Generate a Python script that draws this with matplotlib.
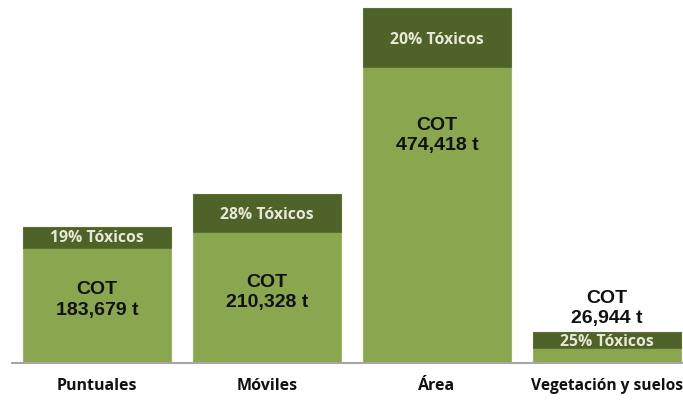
import matplotlib.pyplot as plt
import numpy as np

# categorías y valores (miles de t, alturas)
categorias = ['Puntuales', 'Móviles', 'Área', 'Vegetación y suelos']
cot_base = [153, 175, 395, 20]        # parte no tóxica (verde claro)
toxicos = [29, 51, 79, 21]            # parte tóxica (verde oscuro)
pct_toxicos = ['19% Tóxicos', '28% Tóxicos', '20% Tóxicos', '25% Tóxicos']
cot_etiquetas = ['COT\n183,679 t', 'COT\n210,328 t', 'COT\n474,418 t', 'COT\n26,944 t']

# posiciones de las etiquetas (layout)
cot_y = [84, 94, 303, 73]
tox_offset = [-1, -3, -4, -2]
cat_size = [11.5, 11.5, 11.5, 11.2]

verde_claro = '#8aa64f'
verde_oscuro = '#4f6228'

fig = plt.figure(figsize=(6.83, 4), dpi=100)
ax = fig.add_axes([12 / 683, 37 / 400, 671 / 683, 363 / 400])

x = np.arange(len(categorias))
w = 0.876
ax.bar(x, cot_base, width=w, color=verde_claro, edgecolor='#9bb565', linewidth=0.8)
ax.bar(x, toxicos, width=w, bottom=cot_base, color=verde_oscuro,
       edgecolor='#5c7033', linewidth=0.8)

for i in range(len(categorias)):
    ax.text(x[i], cot_base[i] + toxicos[i] / 2 + tox_offset[i], pct_toxicos[i],
            ha='center', va='center', color='#e6e9d8', fontsize=11.3,
            family='Open Sans', fontweight='bold')
    ax.text(x[i], cot_y[i], cot_etiquetas[i], ha='center', va='center',
            color='#111111', fontsize=14, family='Liberation Sans',
            fontweight='bold', linespacing=1.25)
    ax.text(x[i], -30, categorias[i], ha='center', va='center', color='#111111',
            fontsize=cat_size[i], family='Open Sans', fontweight='bold',
            clip_on=False)

ax.set_xlim(-0.5, 3.447)
ax.set_ylim(0, 484)
for s in ['top', 'right', 'left']:
    ax.spines[s].set_visible(False)
ax.spines['bottom'].set_color('#a6a6a6')
ax.spines['bottom'].set_linewidth(1.5)
ax.set_xticks([])
ax.set_yticks([])

fig.savefig('out.png', dpi=100)
